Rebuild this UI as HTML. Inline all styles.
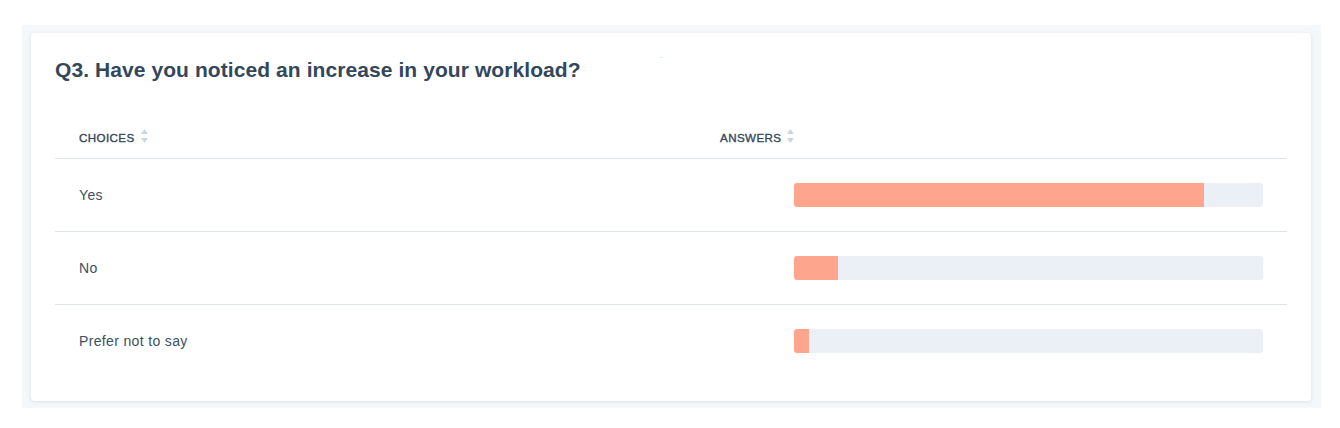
<!DOCTYPE html>
<html><head><meta charset="utf-8">
<style>
*{margin:0;padding:0;box-sizing:border-box}
html,body{width:1340px;height:428px;background:#fff;overflow:hidden;font-family:"Liberation Sans",sans-serif;color:#33475b}
.bg{position:absolute;left:22px;top:25px;width:1299px;height:383px;background:#f5f8fa}
.card{position:absolute;left:31px;top:33px;width:1280px;height:368px;background:#fff;border-radius:4px;box-shadow:0 1px 4px rgba(45,62,80,0.12)}
.title{position:absolute;left:55px;top:58px;font-size:21px;font-weight:bold;line-height:24px;letter-spacing:0.08px;white-space:nowrap}
.th{position:absolute;top:131px;font-size:11.6px;font-weight:normal;line-height:14px;letter-spacing:0.4px;-webkit-text-stroke:0.35px #33475b;white-space:nowrap}
.sort{position:absolute;width:7px;height:14px}
.line{position:absolute;left:55px;width:1232px;height:1px;background:#dfe3eb}
.txt{position:absolute;left:79px;font-size:14px;line-height:16px;letter-spacing:0.35px;color:#3b4f66;white-space:nowrap}
.track{position:absolute;left:794px;width:469px;height:24px;background:#eaf0f6;border-radius:3px;overflow:hidden}
.fill{position:absolute;left:0;top:0;height:24px;background:#fea58e}
</style></head>
<body>
<div class="bg"></div>
<div class="card"></div>
<div style="position:absolute;left:660px;top:57px;width:3px;height:1px;background:#d6f2ee"></div>
<div class="title">Q3. Have you noticed an increase in your workload?</div>
<div class="th" style="left:79px">CHOICES</div>
<svg class="sort" style="left:141px;top:129px" viewBox="0 0 7 14"><path d="M3.5 0 L7 5 L0 5 Z" fill="#cbd6e2"/><path d="M0 9 L7 9 L3.5 14 Z" fill="#cbd6e2"/></svg>
<div class="th" style="left:720px">ANSWERS</div>
<svg class="sort" style="left:787px;top:129px" viewBox="0 0 7 14"><path d="M3.5 0 L7 5 L0 5 Z" fill="#cbd6e2"/><path d="M0 9 L7 9 L3.5 14 Z" fill="#cbd6e2"/></svg>
<div class="line" style="top:158px"></div>
<div class="txt" style="top:187px">Yes</div>
<div class="track" style="top:183px"><div class="fill" style="width:410px"></div></div>
<div class="line" style="top:231px"></div>
<div class="txt" style="top:260px">No</div>
<div class="track" style="top:256px"><div class="fill" style="width:44px"></div></div>
<div class="line" style="top:304px"></div>
<div class="txt" style="top:333px">Prefer not to say</div>
<div class="track" style="top:329px"><div class="fill" style="width:15px"></div></div>
</body></html>
